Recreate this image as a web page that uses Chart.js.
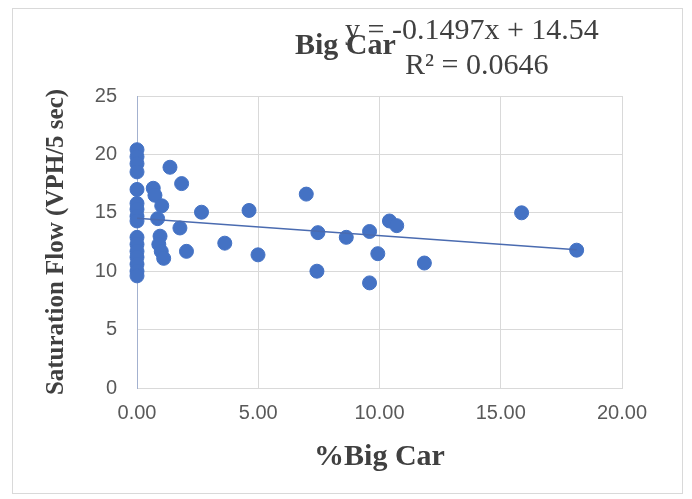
<!DOCTYPE html>
<html>
<head>
<meta charset="utf-8">
<script src="https://cdn.jsdelivr.net/npm/chart.js@4"></script>
<style>
  html, body { margin: 0; padding: 0; background: #fff; }
  #wrap { position: absolute; left: 0; top: 0; width: 692px; height: 499px; }
  #frame { position: absolute; left: 12px; top: 8px; width: 669px; height: 484px; border: 1px solid #d9d9d9; pointer-events: none; }
</style>
</head>
<body>
<div id="frame"></div>
<div id="wrap"><canvas id="chart" width="692" height="499"></canvas></div>
<script>
// ── Data ──
const bigCarPct = [
  0, 0, 0, 0, 0, 0, 0, 0, 0, 0, 0, 0, 0, 0, 0, 0,
  0.67, 0.74, 1.02, 0.85, 0.95, 0.90, 1.00, 1.10, 1.36, 1.84, 1.77, 2.04,
  2.66, 3.62, 4.62, 4.99, 6.98, 7.46, 7.42, 8.63, 9.59, 9.59, 9.93, 10.41, 10.71, 11.85, 15.86, 18.13
];
const satFlow = [
  20.4, 19.8, 19.2, 18.5, 17.0, 15.8, 15.3, 14.7, 14.3, 12.9, 12.3, 11.7, 11.2, 10.6, 10.0, 9.6,
  17.1, 16.5, 15.6, 14.5, 13.0, 12.3, 11.7, 11.1, 18.9, 17.5, 13.7, 11.7,
  15.05, 12.4, 15.2, 11.4, 16.6, 13.3, 10.0, 12.9, 13.4, 9.0, 11.5, 14.3, 13.9, 10.7, 15.0, 11.8
];
const xTicks = [0, 5, 10, 15, 20];
const yTicks = [0, 5, 10, 15, 20, 25];

// trendline from the printed equation
const slope = -0.1497;
const intercept = 14.54;
const rSquared = 0.0646;
const trendX = [0, Math.max(...bigCarPct)];

const titleText = 'Big Car';
const eqText = 'y = ' + slope + 'x + ' + intercept;
const r2Text = 'R\u00B2 = ' + rSquared;

const BLUE = '#4472c4';
const GRID = '#d9d9d9';

// ── Header texts (title + equation overlap like the original) ──
const headerPlugin = {
  id: 'header',
  afterDraw(chart) {
    const ctx = chart.ctx;
    ctx.save();
    ctx.textBaseline = 'middle';
    ctx.textAlign = 'left';
    ctx.fillStyle = '#404040';
    ctx.font = 'bold 30px "Liberation Serif", serif';
    ctx.fillText(titleText, 295, 46);
    ctx.font = '30px "Liberation Serif", serif';
    ctx.fillText(eqText, 345, 31);
    ctx.fillText(r2Text, 405, 66);
    ctx.restore();
  }
};

const data = {
  datasets: [
    {
      type: 'scatter',
      label: 'Saturation Flow',
      data: bigCarPct.map((x, i) => ({ x, y: satFlow[i] })),
      backgroundColor: BLUE,
      borderColor: BLUE,
      pointRadius: 7,
      pointHoverRadius: 7,
      clip: false,
      order: 2,
    },
    {
      type: 'line',
      label: 'Linear',
      data: trendX.map(x => ({ x, y: slope * x + intercept })),
      borderColor: '#4a6bb0',
      borderWidth: 1.5,
      pointRadius: 0,
      fill: false,
      order: 1,
    }
  ]
};

const options = {
  responsive: false,
  animation: false,
  layout: { padding: { left: 0, top: 96, right: 70, bottom: 0 } },
  plugins: {
    legend: { display: false },
    tooltip: { enabled: false },
  },
  scales: {
    x: {
      type: 'linear',
      min: 0,
      max: 20,
      afterFit: s => { s.height = 111; },
      afterBuildTicks: s => { s.ticks = xTicks.map(v => ({ value: v })); },
      grid: { color: GRID, drawTicks: false },
      border: { color: GRID },
      ticks: {
        padding: 13,
        color: '#595959',
        font: { family: '"Liberation Sans", sans-serif', size: 20 },
        callback: v => v.toFixed(2),
      },
      title: {
        display: true,
        text: '%Big Car',
        color: '#404040',
        font: { family: '"Liberation Serif", serif', size: 30, weight: 'bold' },
        padding: { top: 0, bottom: 24 },
      }
    },
    y: {
      min: 0,
      max: 25,
      afterFit: s => { s.width = 137; },
      afterBuildTicks: s => { s.ticks = yTicks.map(v => ({ value: v })); },
      grid: { color: GRID, drawTicks: false },
      border: { color: '#a3b1cf' },
      ticks: {
        padding: 20,
        color: '#595959',
        font: { family: '"Liberation Sans", sans-serif', size: 20 },
      },
      title: {
        display: true,
        text: 'Saturation Flow (VPH/5 sec)',
        color: '#404040',
        font: { family: '"Liberation Serif", serif', size: 25, weight: 'bold' },
        padding: { top: 42, bottom: 0 },
      }
    }
  }
};

new Chart(document.getElementById('chart'), { type: 'scatter', data, options, plugins: [headerPlugin] });
</script>
</body>
</html>
